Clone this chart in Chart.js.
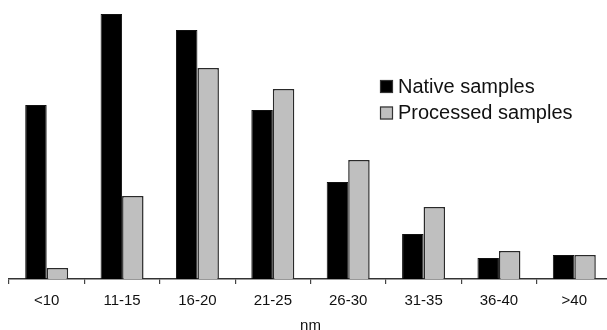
<!DOCTYPE html>
<html>
<head>
<meta charset="utf-8">
<script src="https://cdn.jsdelivr.net/npm/chart.js@4/dist/chart.umd.min.js"></script>
<style>
html, body { margin: 0; padding: 0; background: #fff; overflow: hidden; width: 607px; height: 330px; }
#wrap { position: absolute; left: 0; top: 0; width: 612px; height: 336px; }
</style>
</head>
<body>
<div id="wrap"><canvas id="c" width="612" height="336"></canvas></div>
<script>
const categories = ['<10', '11-15', '16-20', '21-25', '26-30', '31-35', '36-40', '>40'];
const nativeValues = [17.4, 26.5, 24.9, 16.9, 9.7, 4.5, 2.1, 2.4];
const processedValues = [1.1, 8.3, 21.1, 19.0, 11.9, 7.2, 2.8, 2.4];
const seriesNames = ['Native samples', 'Processed samples'];
const axisTitle = 'nm';

const FONT = '"Liberation Sans", Arial, Helvetica, sans-serif';

const legendPlugin = {
  id: 'customLegend',
  afterDraw(chart) {
    const ctx = chart.ctx;
    ctx.save();
    ctx.font = '20px ' + FONT;
    ctx.textBaseline = 'middle';
    ctx.textAlign = 'left';
    chart.data.datasets.forEach((ds, i) => {
      const cy = 86.5 + i * 26.5;
      ctx.fillStyle = ds.backgroundColor;
      ctx.fillRect(380, cy - 6.5, 13, 13);
      ctx.strokeStyle = '#333';
      ctx.lineWidth = 1.2;
      ctx.strokeRect(380.5, cy - 6, 12, 12);
      ctx.fillStyle = '#111';
      ctx.fillText(ds.label, 398, cy + 0.5);
    });
    ctx.restore();
  }
};

new Chart(document.getElementById('c'), {
  type: 'bar',
  data: {
    labels: categories,
    datasets: [
      { label: seriesNames[0], data: nativeValues, backgroundColor: '#000000', borderColor: '#111111', borderWidth: 1 },
      { label: seriesNames[1], data: processedValues, backgroundColor: '#bfbfbf', borderColor: '#2a2a2a', borderWidth: 1.5 }
    ]
  },
  options: {
    responsive: false,
    devicePixelRatio: 1,
    animation: false,
    layout: { padding: { left: 9, right: 0, top: 0, bottom: 0 } },
    datasets: { bar: { categoryPercentage: 0.57, barPercentage: 1.0 } },
    plugins: { legend: { display: false }, tooltip: { enabled: false } },
    scales: {
      x: {
        grid: { display: true, drawOnChartArea: false, drawTicks: true, tickLength: 5, color: '#444', lineWidth: 1.2, offset: true },
        border: { display: true, color: '#333', width: 1.5 },
        ticks: { color: '#111', font: { family: FONT, size: 15 }, padding: 8, maxRotation: 0, autoSkip: false },
        title: { display: true, text: axisTitle, color: '#111', font: { family: FONT, size: 15 }, padding: { top: 0, bottom: 1 } },
        afterFit(scale) { scale.height = 57; }
      },
      y: { display: false, min: 0, max: 27.9 }
    }
  },
  plugins: [legendPlugin]
});
</script>
</body>
</html>
